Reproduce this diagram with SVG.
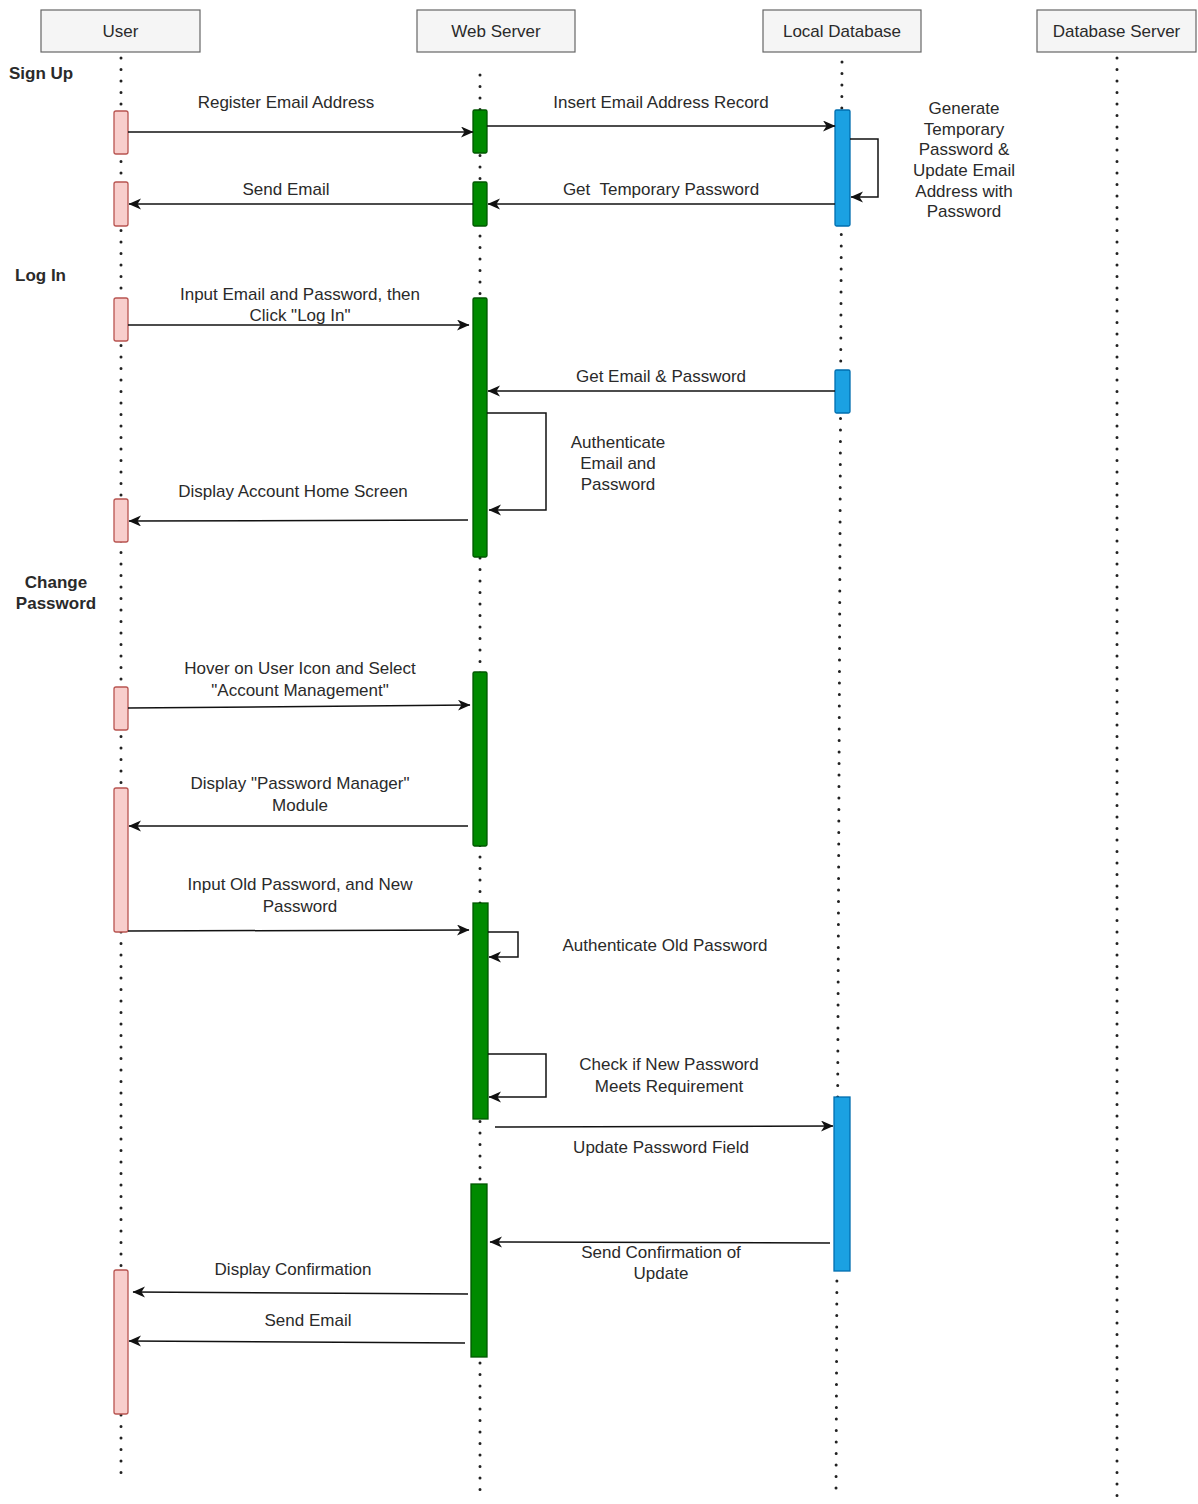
<svg xmlns="http://www.w3.org/2000/svg" width="1198" height="1504" viewBox="0 0 1198 1504">
<style>
text{font-family:"Liberation Sans",Arial,sans-serif;font-size:17px;fill:#2a2a2a;}
.c{text-anchor:middle;}
.b{font-weight:bold;}
.head{fill:#f5f5f5;stroke:#666;stroke-width:1.2;}
.life{stroke:#222;stroke-width:3;stroke-dasharray:0 11.5;stroke-linecap:round;fill:none;}
.u{fill:#f8cecc;stroke:#b85450;stroke-width:1.3;}
.w{fill:#008a00;stroke:#005700;stroke-width:1.3;}
.d{fill:#1ba1e2;stroke:#006eaf;stroke-width:1.3;}
.msg{stroke:#111;stroke-width:1.5;fill:none;marker-end:url(#ah);}
</style>
<defs>
<marker id="ah" markerUnits="userSpaceOnUse" markerWidth="14" markerHeight="12" refX="12" refY="5.5" orient="auto">
<path d="M0,0 L12.5,5.5 L0,11 L3.5,5.5 Z" fill="#111"/>
</marker>
</defs>
<rect width="1198" height="1504" fill="#fff"/>

<g id="lifelines">
<line class="life" x1="121" y1="58" x2="121" y2="1478"/>
<line class="life" x1="480" y1="75" x2="480" y2="1495"/>
<line class="life" x1="842" y1="62" x2="836" y2="1495"/>
<line class="life" x1="1117" y1="58" x2="1117" y2="1497"/>
</g>

<g id="user"><rect class="head" x="41" y="10" width="159" height="42"/><text class="c" x="120.5" y="37">User</text></g>
<g id="webserver"><rect class="head" x="417" y="10" width="158" height="42"/><text class="c" x="496" y="37">Web Server</text></g>
<g id="localdb"><rect class="head" x="763" y="10" width="158" height="42"/><text class="c" x="842" y="37">Local Database</text></g>
<g id="dbserver"><rect class="head" x="1037" y="10" width="159" height="42"/><text class="c" x="1116.5" y="37">Database Server</text></g>

<g id="sections">
<text class="b" x="9" y="79">Sign Up</text>
<text class="b" x="15" y="281">Log In</text>
<text class="b c" x="56" y="588">Change</text>
<text class="b c" x="56" y="609">Password</text>
</g>

<g id="user-activations">
<rect class="u" x="114" y="111" width="14" height="43" rx="2"/>
<rect class="u" x="114" y="182" width="14" height="44" rx="2"/>
<rect class="u" x="114" y="298" width="14" height="43" rx="2"/>
<rect class="u" x="114" y="499" width="14" height="43" rx="2"/>
<rect class="u" x="114" y="687" width="14" height="43" rx="2"/>
<rect class="u" x="114" y="788" width="14" height="144" rx="2"/>
<rect class="u" x="114" y="1270" width="14" height="144" rx="2"/>
</g>

<g id="web-activations">
<rect class="w" x="473" y="110" width="14" height="43" rx="1.5"/>
<rect class="w" x="473" y="182" width="14" height="44" rx="1.5"/>
<rect class="w" x="473" y="298" width="14" height="259" rx="1.5"/>
<rect class="w" x="473" y="672" width="14" height="174" rx="1.5"/>
<rect class="w" x="473" y="903" width="15" height="216"/>
<rect class="w" x="471" y="1184" width="16" height="173"/>
</g>

<g id="db-activations">
<rect class="d" x="835" y="110" width="15" height="116" rx="1.5"/>
<rect class="d" x="835" y="370" width="15" height="43" rx="1.5"/>
<rect class="d" x="834" y="1097" width="16" height="174"/>
</g>

<g id="connectors">
<line class="msg" x1="128" y1="132" x2="473" y2="132"/>
<line class="msg" x1="487" y1="126" x2="835" y2="126"/>
<polyline class="msg" points="850,139 878,139 878,197 851,197"/>
<line class="msg" x1="835" y1="204" x2="488" y2="204"/>
<line class="msg" x1="473" y1="204" x2="129" y2="204"/>
<line class="msg" x1="128" y1="325" x2="469" y2="325"/>
<line class="msg" x1="835" y1="391" x2="488" y2="391"/>
<polyline class="msg" points="487,413 546,413 546,510 489,510"/>
<line class="msg" x1="468" y1="520" x2="129" y2="521"/>
<line class="msg" x1="128" y1="708" x2="470" y2="705"/>
<line class="msg" x1="468" y1="826" x2="129" y2="826"/>
<line class="msg" x1="128" y1="931" x2="469" y2="930"/>
<polyline class="msg" points="488,932 518,932 518,957 489,957"/>
<polyline class="msg" points="488,1054 546,1054 546,1097 489,1097"/>
<line class="msg" x1="495" y1="1127" x2="833" y2="1126"/>
<line class="msg" x1="830" y1="1243" x2="490" y2="1242"/>
<line class="msg" x1="468" y1="1294" x2="133" y2="1292"/>
<line class="msg" x1="465" y1="1343" x2="129" y2="1341"/>
</g>

<g id="labels">
<text class="c" x="286" y="108">Register Email Address</text>
<text class="c" x="661" y="108">Insert Email Address Record</text>
<text class="c" x="964" y="114">Generate</text>
<text class="c" x="964" y="135">Temporary</text>
<text class="c" x="964" y="155">Password &amp;</text>
<text class="c" x="964" y="176">Update Email</text>
<text class="c" x="964" y="197">Address with</text>
<text class="c" x="964" y="217">Password</text>
<text class="c" x="661" y="195" xml:space="preserve">Get  Temporary Password</text>
<text class="c" x="286" y="195">Send Email</text>
<text class="c" x="300" y="300">Input Email and Password, then</text>
<text class="c" x="300" y="321">Click "Log In"</text>
<text class="c" x="661" y="382">Get Email &amp; Password</text>
<text class="c" x="618" y="448">Authenticate</text>
<text class="c" x="618" y="469">Email and</text>
<text class="c" x="618" y="490">Password</text>
<text class="c" x="293" y="497">Display Account Home Screen</text>
<text class="c" x="300" y="674">Hover on User Icon and Select</text>
<text class="c" x="300" y="696">"Account Management"</text>
<text class="c" x="300" y="789">Display "Password Manager"</text>
<text class="c" x="300" y="811">Module</text>
<text class="c" x="300" y="890">Input Old Password, and New</text>
<text class="c" x="300" y="912">Password</text>
<text class="c" x="665" y="951">Authenticate Old Password</text>
<text class="c" x="669" y="1070">Check if New Password</text>
<text class="c" x="669" y="1092">Meets Requirement</text>
<text class="c" x="661" y="1153">Update Password Field</text>
<text class="c" x="661" y="1258">Send Confirmation of</text>
<text class="c" x="661" y="1279">Update</text>
<text class="c" x="293" y="1275">Display Confirmation</text>
<text class="c" x="308" y="1326">Send Email</text>
</g>
</svg>
